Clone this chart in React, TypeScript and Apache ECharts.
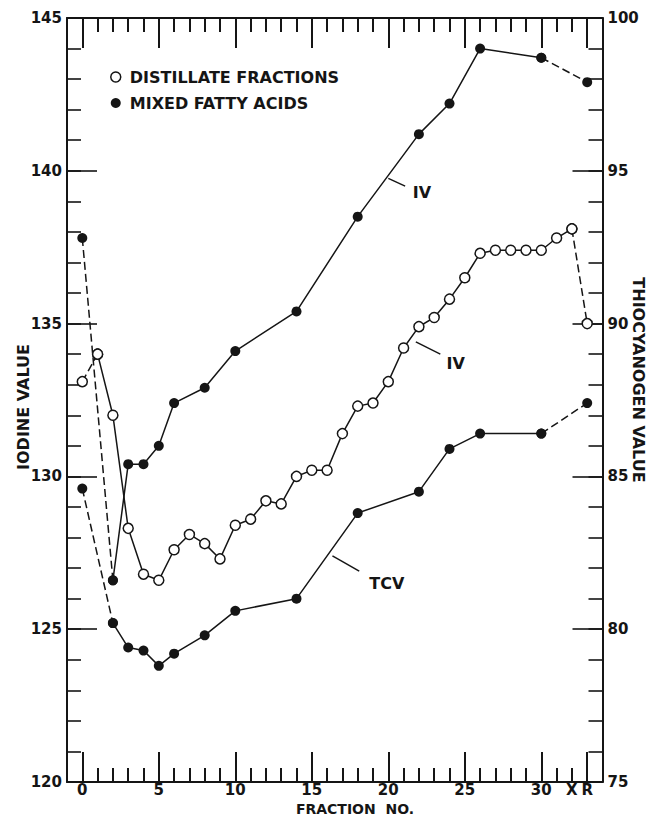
import React, { useEffect, useRef } from 'react';
import * as echarts from 'echarts';

// ---- data ----
const DIST_FRACTION = [0, 1, 2, 3, 4, 5, 6, 7, 8, 9, 10, 11, 12, 13, 14, 15, 16, 17, 18, 19, 20, 21, 22, 23, 24, 25, 26, 27, 28, 29, 30, 31, 32, 33];
const DIST_IV = [133.1, 134.0, 132.0, 128.3, 126.8, 126.6, 127.6, 128.1, 127.8, 127.3, 128.4, 128.6, 129.2, 129.1, 130.0, 130.2, 130.2, 131.4, 132.3, 132.4, 133.1, 134.2, 134.9, 135.2, 135.8, 136.5, 137.3, 137.4, 137.4, 137.4, 137.4, 137.8, 138.1, 135.0];

const MFA_FRACTION = [0, 2, 3, 4, 5, 6, 8, 10, 14, 18, 22, 24, 26, 30, 33];
const MFA_IV = [137.8, 126.6, 130.4, 130.4, 131.0, 132.4, 132.9, 134.1, 135.4, 138.5, 141.2, 142.2, 144.0, 143.7, 142.9];
const MFA_TCV = [84.6, 80.2, 79.4, 79.3, 78.8, 79.2, 79.8, 80.6, 81.0, 83.8, 84.5, 85.9, 86.4, 86.4, 87.4];

const X_TICK_POS = [0, 5, 10, 15, 20, 25, 30, 32, 33];
const X_TICK_LABELS = ['0', '5', '10', '15', '20', '25', '30', 'X', 'R'];

const NOTE_TEXT = ['IV', 'IV', 'TCV'];
const NOTE_FROM = [[20.0, 139.75], [21.8, 134.4], [16.35, 127.4]];
const NOTE_TO = [[21.1, 139.5], [23.4, 134.0], [18.1, 126.9]];
const NOTE_AT = [[22.2, 139.3], [24.4, 133.7], [19.9, 126.5]];

const SERIES_DIST = 'DISTILLATE FRACTIONS';
const SERIES_MFA = 'MIXED FATTY ACIDS';

const INK = '#151515';
const FONT = "'DejaVu Sans', sans-serif";

const pts = (xs: number[], ys: number[], a: number, b: number) =>
  xs.slice(a, b + 1).map((x, i) => [x, ys[a + i]]);

export default function App() {
  const ref = useRef<HTMLDivElement>(null);

  useEffect(() => {
    if (!ref.current) return;
    const chart = echarts.init(ref.current, undefined, { renderer: 'svg' });

    const openStyle = { color: '#ffffff', borderColor: INK, borderWidth: 1.5 };
    const fillStyle = { color: INK, borderColor: INK, borderWidth: 0 };

    const line = (name: string, data: number[][], yAxisIndex: number, dashed: boolean, item: any, z = 3) => ({
      type: 'line',
      name,
      data,
      xAxisIndex: 0,
      yAxisIndex,
      symbol: 'circle',
      symbolSize: 10,
      showSymbol: true,
      silent: true,
      z,
      lineStyle: { color: INK, width: 1.5, type: dashed ? [8, 4] : 'solid' },
      itemStyle: item,
      emphasis: { disabled: true },
    });

    const nLast = MFA_FRACTION.length - 1;
    const dLast = DIST_FRACTION.length - 1;

    const series: any[] = [
      line(SERIES_MFA, pts(MFA_FRACTION, MFA_IV, 0, 1), 0, true, fillStyle),
      line(SERIES_MFA, pts(MFA_FRACTION, MFA_IV, 1, nLast - 1), 0, false, fillStyle),
      line(SERIES_MFA, pts(MFA_FRACTION, MFA_IV, nLast - 1, nLast), 0, true, fillStyle),
      line(SERIES_MFA, pts(MFA_FRACTION, MFA_TCV, 0, 1), 1, true, fillStyle),
      line(SERIES_MFA, pts(MFA_FRACTION, MFA_TCV, 1, nLast - 1), 1, false, fillStyle),
      line(SERIES_MFA, pts(MFA_FRACTION, MFA_TCV, nLast - 1, nLast), 1, true, fillStyle),
      line(SERIES_DIST, pts(DIST_FRACTION, DIST_IV, 0, 1), 0, true, openStyle, 4),
      line(SERIES_DIST, pts(DIST_FRACTION, DIST_IV, 1, dLast - 1), 0, false, openStyle, 4),
      line(SERIES_DIST, pts(DIST_FRACTION, DIST_IV, dLast - 1, dLast), 0, true, openStyle, 4),
    ];

    NOTE_TEXT.forEach((t, i) => {
      series.push({
        type: 'line',
        data: [NOTE_FROM[i], NOTE_TO[i]],
        xAxisIndex: 0,
        yAxisIndex: 0,
        showSymbol: false,
        symbol: 'none',
        silent: true,
        lineStyle: { color: INK, width: 1.5 },
        emphasis: { disabled: true },
      });
    });
    series.push({
      type: 'scatter',
      data: NOTE_AT,
      xAxisIndex: 0,
      yAxisIndex: 0,
      symbolSize: 1,
      silent: true,
      itemStyle: { color: 'rgba(0,0,0,0)', opacity: 1 },
      label: {
        show: true,
        position: 'inside',
        formatter: (p: any) => NOTE_TEXT[p.dataIndex],
        color: INK,
        opacity: 1,
        textBorderWidth: 0,
        fontFamily: FONT,
        fontWeight: 'bold',
        fontSize: 16,
      },
      emphasis: { disabled: true },
    });

    const labelStyle = { color: INK, fontFamily: FONT, fontWeight: 'bold', fontSize: 15, lineHeight: 14 };
    const frameLine = () => ({ show: true, onZero: false, lineStyle: { color: INK, width: 2 } });
    const noLine = () => ({ show: false, onZero: false });
    const tick = (length: number, width = 1.6) => ({ show: true, inside: true, length, lineStyle: { color: INK, width } });

    const xMinor = (position: string, labels: boolean) => ({
      type: 'value', gridIndex: 0, position, min: -1, max: 34, interval: 1,
      axisLine: frameLine(), axisTick: tick(14, 2), splitLine: { show: false },
      axisLabel: labels
        ? {
            show: true, margin: 1, ...labelStyle, showMinLabel: true, showMaxLabel: true,
            formatter: (v: number) => {
              const k = X_TICK_POS.indexOf(v);
              return k >= 0 ? X_TICK_LABELS[k] : '';
            },
          }
        : { show: false },
    });
    const xMajor = (position: string) => ({
      type: 'value', gridIndex: 1, position, min: 0, max: 33, interval: 5,
      axisLine: noLine(), axisTick: tick(30, 2), splitLine: { show: false }, axisLabel: { show: false },
    });
    const yMinor = (position: string, min: number, max: number) => ({
      type: 'value', gridIndex: 0, position, min, max, interval: 1,
      axisLine: frameLine(), axisTick: tick(14), splitLine: { show: false }, axisLabel: { show: false },
    });
    const yMajor = (position: string, min: number, max: number) => ({
      type: 'value', gridIndex: 0, position, min, max, interval: 5,
      axisLine: noLine(), axisTick: tick(30), splitLine: { show: false },
      axisLabel: { show: true, margin: 5, ...labelStyle, showMinLabel: true, showMaxLabel: true },
    });

    chart.setOption({
      animation: false,
      backgroundColor: '#ffffff',
      grid: [
        { left: 67, right: 47.5, top: 18, bottom: 34, containLabel: false },
        { left: 82.3, right: 62.8, top: 18, bottom: 34, containLabel: false },
      ],
      xAxis: [xMinor('bottom', true), xMinor('top', false), xMajor('bottom'), xMajor('top')],
      yAxis: [
        yMinor('left', 120, 145),
        yMinor('right', 75, 100),
        yMajor('left', 120, 145),
        yMajor('right', 75, 100),
        { type: 'value', gridIndex: 1, show: false, min: 0, max: 1, axisLine: noLine() },
      ],
      legend: {
        orient: 'vertical',
        left: 105,
        top: 64,
        itemWidth: 10,
        itemHeight: 10,
        itemGap: 10,
        selectedMode: false,
        textStyle: { color: INK, fontFamily: FONT, fontWeight: 'bold', fontSize: 16, lineHeight: 16, padding: [0, 0, 0, 4] },
        data: [
          { name: SERIES_DIST, icon: 'circle', itemStyle: { color: '#ffffff', borderColor: INK, borderWidth: 1.5 } },
          { name: SERIES_MFA, icon: 'circle', itemStyle: { color: INK, borderWidth: 0 } },
        ],
      },
      graphic: [
        {
          type: 'text', x: 23, y: 407, rotation: Math.PI / 2,
          style: { text: 'IODINE VALUE', fill: INK, font: `bold 16px ${FONT}`, align: 'center', verticalAlign: 'middle' },
        },
        {
          type: 'text', x: 638, y: 380, rotation: -Math.PI / 2,
          style: { text: 'THIOCYANOGEN VALUE', fill: INK, font: `bold 16px ${FONT}`, align: 'center', verticalAlign: 'middle' },
        },
        {
          type: 'text', x: 355, y: 808.5,
          style: { text: 'FRACTION  NO.', fill: INK, font: `bold 14px ${FONT}`, align: 'center', verticalAlign: 'middle' },
        },
      ],
      series,
    });

    return () => chart.dispose();
  }, []);

  return (
    <div
      ref={ref}
      style={{ position: 'fixed', left: 0, top: 0, width: 650, height: 816, background: '#ffffff' }}
    />
  );
}
